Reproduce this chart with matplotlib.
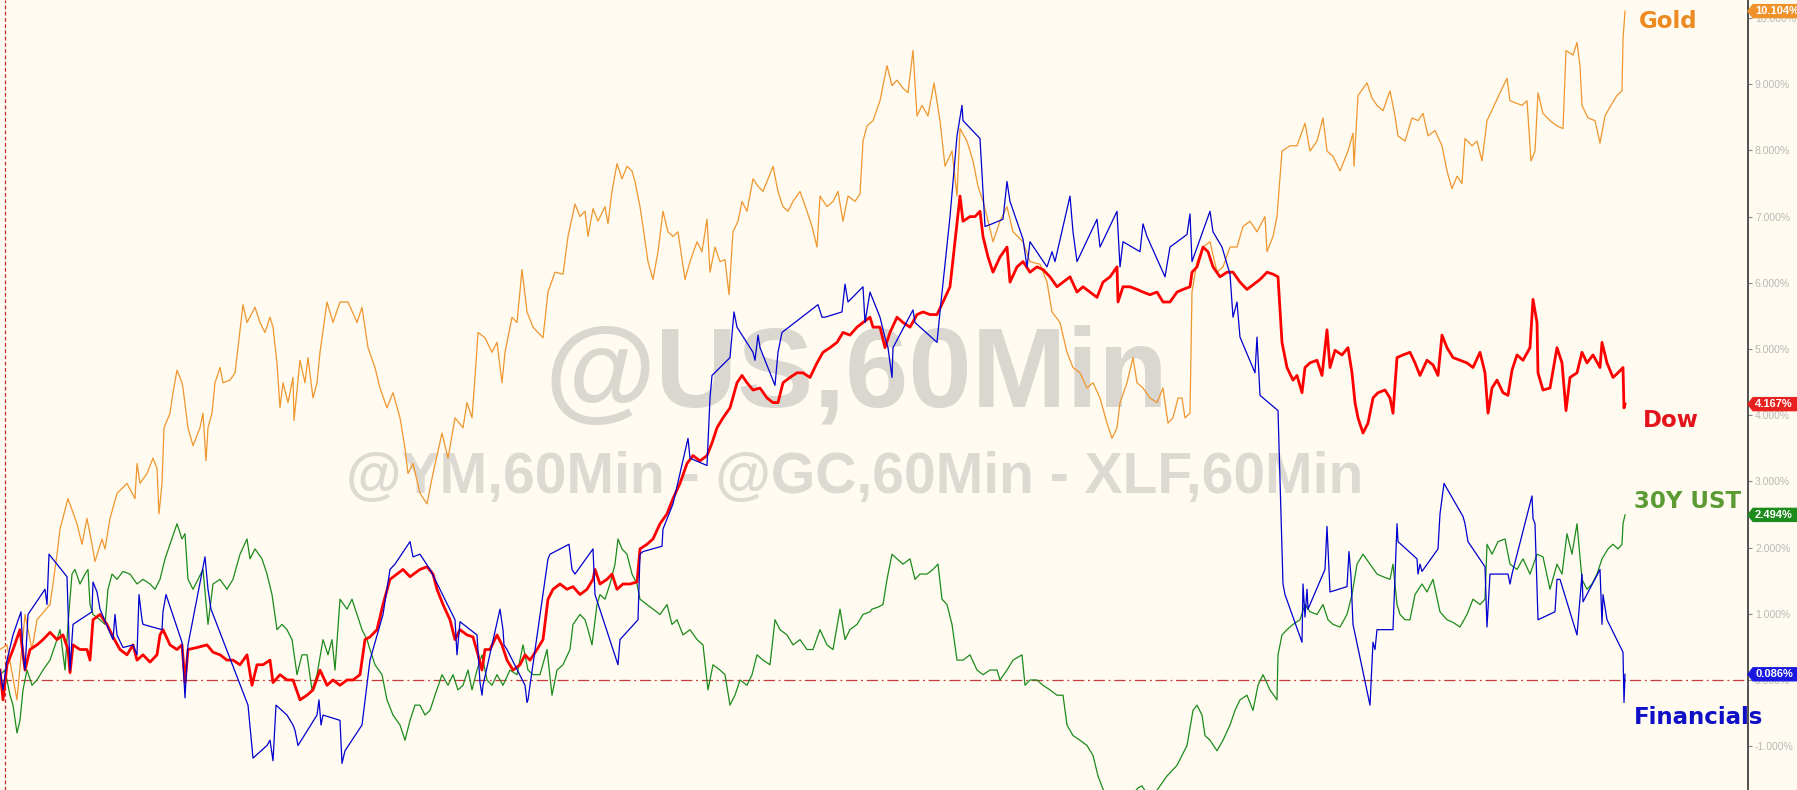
import matplotlib
matplotlib.use("Agg")
import numpy as np
import matplotlib.pyplot as plt
import matplotlib.transforms as mtransforms
from matplotlib.patches import Polygon

# %%
# hourly bar index (shared scale) and % change since start
gold_t = [0, 7, 17, 25, 32, 37, 50, 53, 57, 60, 68, 77, 82, 87, 92, 95, 102, 105, 110, 117,
          127, 135, 137, 140, 147, 153, 157, 159, 162, 164, 170, 173, 177, 182, 183, 188, 193, 200, 203, 206,
          208, 212, 215, 220, 223, 230, 235, 238, 243, 247, 255, 260, 265, 270, 273, 277, 280, 283, 288, 293,
          294, 300, 305, 308, 313, 317, 320, 327, 333, 340, 348, 357, 362, 368, 375, 380, 387, 393, 400, 405,
          408, 413, 420, 427, 433, 442, 448, 455, 463, 467, 472, 475, 478, 485, 492, 497, 502, 505, 512, 517,
          522, 527, 533, 538, 543, 548, 555, 563, 568, 575, 580, 585, 588, 593, 598, 605, 608, 612, 617, 622,
          627, 632, 635, 640, 643, 648, 653, 658, 663, 668, 673, 678, 685, 690, 697, 702, 707, 710, 715, 720,
          725, 729, 733, 738, 742, 747, 753, 758, 763, 767, 773, 778, 783, 788, 793, 800, 807, 812, 817, 820,
          827, 833, 838, 843, 848, 855, 860, 863, 867, 873, 880, 887, 892, 897, 903, 908, 913, 917, 922, 928,
          934, 940, 945, 952, 957, 960, 967, 973, 978, 983, 987, 993, 1000, 1007, 1013, 1023, 1030, 1040, 1047, 1052,
          1060, 1067, 1073, 1080, 1087, 1093, 1100, 1107, 1112, 1117, 1120, 1127, 1133, 1137, 1143, 1150, 1157, 1163, 1168, 1173,
          1178, 1182, 1185, 1190, 1192, 1197, 1203, 1210, 1217, 1223, 1230, 1237, 1243, 1250, 1257, 1265, 1267, 1273, 1277, 1282,
          1290, 1297, 1305, 1310, 1317, 1323, 1327, 1333, 1340, 1348, 1353, 1354, 1358, 1367, 1372, 1377, 1383, 1390, 1395, 1398,
          1405, 1412, 1418, 1423, 1428, 1435, 1442, 1447, 1452, 1457, 1462, 1465, 1472, 1477, 1482, 1487, 1493, 1500, 1507, 1510,
          1517, 1522, 1527, 1531, 1535, 1538, 1543, 1550, 1557, 1563, 1566, 1573, 1577, 1580, 1582, 1588, 1595, 1600, 1605, 1612,
          1617, 1622, 1623, 1625]
gold_pct = [0.46, 0.53, -0.30, 0.99, 0.46, 0.91, 1.14, 1.45, 1.90, 2.28, 2.74, 2.36, 2.05, 2.44, 2.05, 1.79, 2.13, 1.98, 2.44, 2.82,
            2.97, 2.74, 3.27, 2.97, 3.12, 3.35, 3.20, 2.51, 2.97, 3.81, 4.03, 4.34, 4.68, 4.49, 4.41, 3.81, 3.54, 3.81, 4.03, 3.31,
            3.81, 4.03, 4.49, 4.72, 4.49, 4.53, 4.64, 5.02, 5.67, 5.40, 5.63, 5.40, 5.25, 5.48, 5.33, 4.79, 4.11, 4.49, 4.19, 4.57,
            3.92, 4.83, 4.49, 4.87, 4.26, 4.49, 4.95, 5.71, 5.40, 5.71, 5.71, 5.40, 5.63, 5.02, 4.72, 4.41, 4.11, 4.34, 3.96, 3.50,
            3.12, 3.27, 2.82, 2.66, 3.12, 3.73, 3.35, 3.96, 3.81, 4.19, 3.96, 4.57, 5.25, 5.17, 4.95, 5.10, 4.49, 4.95, 5.48, 5.40,
            6.20, 5.56, 5.33, 5.25, 5.17, 5.86, 6.16, 6.13, 6.70, 7.19, 7.00, 7.08, 6.70, 7.12, 6.93, 7.15, 6.89, 7.38, 7.80, 7.57,
            7.76, 7.69, 7.53, 7.15, 6.85, 6.32, 6.05, 6.47, 7.08, 6.77, 6.70, 6.77, 6.05, 6.32, 6.62, 6.47, 6.96, 6.16, 6.54, 6.32,
            6.35, 5.82, 6.77, 6.93, 7.23, 7.08, 7.57, 7.46, 7.38, 7.53, 7.76, 7.38, 7.15, 7.08, 7.23, 7.38, 7.08, 6.85, 6.54, 7.31,
            7.15, 7.23, 7.38, 6.93, 7.31, 7.23, 7.34, 8.14, 8.37, 8.45, 8.75, 9.28, 8.98, 9.06, 8.94, 8.87, 9.51, 8.52, 8.68, 8.52,
            9.02, 8.45, 7.76, 7.99, 7.31, 8.33, 8.14, 7.84, 7.46, 7.23, 7.00, 6.62, 6.93, 7.15, 6.77, 6.62, 6.32, 6.28, 6.01, 5.56,
            5.40, 4.95, 4.72, 4.64, 4.41, 4.49, 4.26, 3.88, 3.65, 3.81, 4.19, 4.49, 4.87, 4.49, 4.41, 4.26, 4.19, 4.41, 3.88, 3.96,
            4.26, 4.26, 3.96, 4.03, 5.86, 6.32, 6.54, 6.62, 6.16, 6.24, 6.54, 6.54, 6.85, 6.93, 6.77, 7.00, 6.47, 6.70, 7.00, 7.99,
            8.07, 8.07, 8.41, 7.99, 8.14, 8.49, 7.99, 7.91, 7.69, 7.99, 8.26, 7.76, 8.83, 9.02, 8.79, 8.68, 8.60, 8.90, 8.52, 8.22,
            8.14, 8.49, 8.45, 8.56, 8.22, 8.30, 8.07, 7.69, 7.42, 7.61, 7.50, 8.18, 8.07, 8.14, 7.84, 8.45, 8.64, 8.87, 9.09, 8.75,
            8.71, 8.68, 8.75, 7.84, 7.99, 8.87, 8.56, 8.45, 8.37, 8.33, 9.51, 9.44, 9.63, 9.28, 8.68, 8.49, 8.45, 8.11, 8.52, 8.71,
            8.83, 8.90, 9.67, 10.104]

dow_t = [0, 3, 7, 13, 20, 25, 30, 37, 43, 50, 57, 63, 68, 70, 73, 80, 87, 90, 93, 100,
         107, 113, 120, 127, 133, 137, 143, 150, 157, 160, 163, 170, 177, 182, 185, 188, 197, 207, 213, 220,
         227, 233, 240, 247, 252, 257, 263, 270, 273, 280, 287, 293, 300, 307, 313, 320, 327, 333, 340, 347,
         353, 360, 365, 370, 377, 383, 390, 397, 403, 410, 420, 427, 433, 437, 443, 450, 455, 460, 467, 473,
         478, 482, 485, 490, 497, 502, 507, 513, 520, 525, 530, 537, 543, 548, 553, 560, 567, 573, 580, 587,
         593, 595, 600, 607, 612, 617, 623, 630, 637, 640, 647, 653, 660, 667, 673, 680, 687, 693, 700, 707,
         712, 717, 723, 730, 737, 742, 747, 753, 760, 767, 773, 778, 783, 790, 797, 803, 810, 817, 823, 830,
         837, 843, 850, 857, 863, 870, 873, 880, 885, 890, 897, 903, 910, 917, 923, 930, 937, 943, 950, 955,
         960, 963, 970, 975, 980, 983, 988, 993, 1000, 1007, 1010, 1017, 1023, 1030, 1037, 1043, 1050, 1057, 1063, 1070,
         1077, 1083, 1090, 1097, 1103, 1110, 1117, 1118, 1123, 1130, 1137, 1143, 1150, 1157, 1163, 1170, 1177, 1183, 1190, 1192,
         1197, 1203, 1208, 1213, 1220, 1227, 1233, 1240, 1247, 1253, 1260, 1267, 1273, 1278, 1282, 1287, 1293, 1297, 1302, 1305,
         1310, 1317, 1322, 1327, 1330, 1335, 1342, 1348, 1352, 1355, 1358, 1363, 1368, 1373, 1378, 1385, 1390, 1393, 1397, 1403,
         1410, 1415, 1420, 1427, 1433, 1438, 1442, 1447, 1453, 1460, 1467, 1473, 1480, 1485, 1488, 1492, 1497, 1503, 1508, 1512,
         1517, 1523, 1530, 1533, 1537, 1538, 1543, 1550, 1557, 1562, 1566, 1570, 1577, 1582, 1587, 1593, 1600, 1602, 1607, 1613,
         1618, 1623, 1624, 1625]
dow_pct = [0.15, -0.30, 0.23, 0.46, 0.76, 0.15, 0.46, 0.53, 0.61, 0.72, 0.61, 0.68, 0.46, 0.11, 0.53, 0.46, 0.46, 0.30, 0.91, 0.99,
           0.84, 0.65, 0.46, 0.38, 0.53, 0.30, 0.38, 0.27, 0.38, 0.68, 0.76, 0.53, 0.46, 0.53, -0.04, 0.46, 0.49, 0.53, 0.42, 0.38,
           0.30, 0.30, 0.23, 0.38, -0.08, 0.23, 0.23, 0.30, -0.04, 0.08, 0.00, 0.00, -0.30, -0.23, -0.15, 0.15, -0.08, 0.00, -0.08, 0.00,
           0.00, 0.08, 0.61, 0.65, 0.76, 1.14, 1.52, 1.60, 1.67, 1.56, 1.67, 1.71, 1.60, 1.37, 1.14, 0.91, 0.61, 0.76, 0.68, 0.65,
           0.38, 0.15, 0.46, 0.46, 0.68, 0.53, 0.30, 0.15, 0.23, 0.38, 0.30, 0.46, 0.61, 1.22, 1.37, 1.45, 1.37, 1.41, 1.29, 1.37,
           1.52, 1.67, 1.45, 1.52, 1.60, 1.37, 1.45, 1.45, 1.48, 1.98, 2.05, 2.13, 2.36, 2.51, 2.74, 2.97, 3.27, 3.39, 3.31, 3.39,
           3.58, 3.81, 3.96, 4.11, 4.49, 4.60, 4.49, 4.38, 4.41, 4.26, 4.19, 4.19, 4.49, 4.57, 4.64, 4.64, 4.57, 4.79, 4.95, 5.02,
           5.10, 5.25, 5.21, 5.33, 5.40, 5.48, 5.33, 5.33, 5.02, 5.25, 5.48, 5.40, 5.33, 5.52, 5.56, 5.52, 5.52, 5.71, 5.94, 6.62,
           7.31, 6.93, 7.00, 7.00, 7.08, 6.70, 6.39, 6.16, 6.39, 6.54, 6.01, 6.24, 6.32, 6.16, 6.24, 6.20, 6.09, 5.94, 6.01, 6.09,
           5.86, 5.94, 5.86, 5.78, 6.01, 6.09, 6.24, 5.71, 5.94, 5.94, 5.90, 5.86, 5.82, 5.86, 5.71, 5.71, 5.86, 5.90, 5.94, 6.16,
           6.24, 6.54, 6.47, 6.24, 6.09, 6.16, 6.16, 6.01, 5.90, 5.97, 6.05, 6.16, 6.13, 6.09, 5.10, 4.72, 4.53, 4.60, 4.34, 4.72,
           4.79, 4.83, 4.60, 5.29, 4.72, 4.98, 4.91, 5.02, 4.64, 4.19, 3.96, 3.73, 3.88, 4.26, 4.34, 4.38, 4.26, 4.03, 4.87, 4.91,
           4.95, 4.79, 4.60, 4.83, 4.76, 4.60, 5.21, 5.02, 4.87, 4.83, 4.79, 4.72, 4.95, 4.64, 4.03, 4.41, 4.53, 4.34, 4.30, 4.68,
           4.91, 4.83, 5.02, 5.75, 5.40, 4.64, 4.38, 4.41, 5.02, 4.79, 4.07, 4.57, 4.64, 4.95, 4.79, 4.91, 4.72, 5.10, 4.79, 4.57,
           4.64, 4.72, 4.11, 4.167]

ust_t = [0, 5, 10, 13, 17, 20, 23, 27, 32, 37, 43, 50, 57, 60, 65, 68, 72, 75, 80, 85,
         88, 90, 93, 100, 105, 108, 112, 117, 123, 130, 137, 143, 150, 155, 160, 165, 170, 177, 182, 185,
         188, 193, 198, 203, 208, 213, 220, 227, 233, 240, 247, 250, 255, 262, 267, 272, 277, 282, 287, 292,
         297, 302, 307, 312, 317, 323, 328, 332, 335, 340, 347, 352, 357, 362, 367, 370, 375, 382, 387, 393,
         400, 405, 410, 415, 420, 425, 430, 435, 442, 448, 453, 458, 463, 468, 472, 477, 482, 487, 492, 497,
         503, 510, 517, 523, 528, 533, 540, 547, 552, 557, 563, 570, 573, 580, 585, 588, 592, 597, 600, 605,
         610, 615, 618, 622, 627, 632, 637, 640, 647, 653, 660, 667, 672, 677, 683, 690, 697, 703, 708, 713,
         720, 725, 730, 735, 740, 747, 752, 757, 763, 770, 775, 780, 787, 793, 800, 807, 813, 820, 827, 833,
         840, 845, 850, 857, 863, 870, 872, 878, 883, 887, 892, 897, 903, 910, 915, 920, 927, 933, 938, 942,
         947, 952, 957, 963, 970, 977, 983, 990, 997, 1000, 1007, 1013, 1022, 1025, 1030, 1037, 1043, 1050, 1057, 1063,
         1067, 1073, 1080, 1087, 1093, 1098, 1103, 1108, 1113, 1120, 1127, 1133, 1138, 1142, 1147, 1153, 1160, 1167, 1172, 1177,
         1182, 1187, 1193, 1197, 1202, 1205, 1210, 1217, 1223, 1230, 1235, 1240, 1247, 1253, 1258, 1263, 1270, 1277, 1278, 1282,
         1287, 1293, 1300, 1305, 1310, 1317, 1323, 1328, 1333, 1340, 1347, 1352, 1357, 1363, 1370, 1377, 1383, 1390, 1393, 1397,
         1400, 1405, 1410, 1415, 1422, 1427, 1433, 1440, 1447, 1453, 1460, 1467, 1473, 1480, 1485, 1487, 1492, 1498, 1505, 1510,
         1517, 1523, 1530, 1537, 1543, 1550, 1557, 1562, 1567, 1572, 1577, 1582, 1587, 1592, 1597, 1602, 1608, 1613, 1618, 1622,
         1623, 1625]
ust_pct = [0.08, 0.15, -0.23, -0.38, -0.80, -0.61, -0.15, 0.15, -0.08, 0.00, 0.15, 0.30, 0.61, 0.76, 0.15, 0.84, 1.60, 1.67, 1.45, 1.60,
           1.67, 1.14, 0.99, 0.91, 0.84, 1.37, 1.60, 1.52, 1.64, 1.60, 1.45, 1.52, 1.45, 1.37, 1.52, 1.83, 2.05, 2.36, 2.13, 2.21,
           1.52, 1.37, 1.52, 1.67, 0.84, 1.45, 1.52, 1.37, 1.52, 1.90, 2.13, 1.83, 1.98, 1.83, 1.60, 1.29, 0.76, 0.84, 0.76, 0.61,
           0.08, 0.38, 0.38, -0.15, 0.08, 0.61, 0.38, 0.61, 0.15, 1.22, 1.07, 1.22, 0.99, 0.76, 0.61, 0.46, 0.23, 0.08, -0.30, -0.53,
           -0.68, -0.91, -0.61, -0.38, -0.38, -0.53, -0.46, -0.23, 0.08, -0.08, 0.08, -0.15, -0.08, 0.15, -0.15, 0.15, 0.38, 0.00, -0.08, 0.08,
           -0.08, 0.15, 0.08, 0.53, 0.15, 0.08, 0.08, 0.46, -0.23, 0.15, 0.23, 0.46, 0.84, 0.99, 0.91, 0.76, 0.53, 1.14, 1.29, 1.22,
           1.45, 1.75, 2.13, 1.98, 1.90, 1.60, 1.45, 1.22, 1.14, 1.07, 0.99, 1.14, 0.84, 0.91, 0.68, 0.76, 0.61, 0.53, -0.15, 0.23,
           0.15, 0.08, -0.38, -0.23, 0.00, -0.08, 0.08, 0.38, 0.30, 0.23, 0.91, 0.76, 0.68, 0.53, 0.61, 0.46, 0.46, 0.76, 0.53, 0.46,
           1.07, 0.61, 0.76, 0.84, 0.99, 1.03, 1.07, 1.10, 1.14, 1.52, 1.90, 1.83, 1.75, 1.83, 1.52, 1.60, 1.60, 1.67, 1.75, 1.22,
           1.14, 0.84, 0.30, 0.30, 0.38, 0.15, 0.08, 0.15, 0.15, 0.00, 0.15, 0.30, 0.38, -0.08, 0.00, 0.00, -0.08, -0.15, -0.23, -0.23,
           -0.68, -0.84, -0.91, -0.99, -1.14, -1.45, -1.65, -1.75, -1.70, -1.75, -1.68, -1.72, -1.63, -1.60, -1.72, -1.75, -1.60, -1.45, -1.37, -1.29,
           -1.14, -0.99, -0.46, -0.38, -0.53, -0.84, -0.91, -1.07, -0.91, -0.68, -0.46, -0.30, -0.23, -0.46, -0.08, 0.08, -0.15, -0.30, 0.38, 0.68,
           0.76, 0.84, 0.91, 1.14, 1.03, 0.99, 1.14, 0.91, 0.84, 0.80, 0.99, 1.29, 1.75, 1.90, 1.75, 1.60, 1.56, 1.52, 1.75, 1.14,
           0.99, 0.91, 0.91, 1.29, 1.45, 1.33, 1.52, 1.03, 0.91, 0.87, 0.80, 0.99, 1.22, 1.14, 1.22, 2.05, 1.90, 2.09, 2.13, 1.75,
           1.67, 1.83, 1.60, 1.90, 1.86, 1.37, 1.75, 1.60, 2.21, 1.90, 2.36, 1.52, 1.37, 1.45, 1.60, 1.83, 1.98, 2.05, 1.98, 2.05,
           2.36, 2.494]

fin_t = [0, 3, 7, 13, 21, 23, 25, 28, 45, 47, 49, 67, 70, 73, 92, 93, 97, 100, 113, 115,
         117, 123, 133, 137, 139, 142, 143, 162, 163, 166, 182, 185, 188, 205, 208, 211, 248, 253, 267, 270,
         273, 276, 287, 293, 295, 298, 317, 319, 321, 323, 340, 342, 345, 362, 370, 383, 390, 395, 410, 413,
         420, 430, 435, 455, 457, 460, 477, 480, 482, 483, 500, 503, 504, 507, 525, 527, 528, 530, 548, 550,
         569, 572, 575, 593, 595, 618, 620, 638, 640, 643, 662, 663, 673, 688, 690, 707, 710, 712, 730, 734,
         737, 753, 755, 758, 760, 775, 778, 782, 818, 822, 825, 842, 845, 848, 863, 865, 870, 880, 885, 888,
         892, 893, 913, 915, 937, 940, 950, 957, 962, 963, 980, 985, 992, 1003, 1007, 1010, 1023, 1027, 1030, 1047,
         1052, 1055, 1070, 1073, 1077, 1097, 1100, 1117, 1120, 1123, 1140, 1143, 1147, 1165, 1170, 1187, 1190, 1192, 1210, 1213,
         1222, 1230, 1233, 1237, 1240, 1255, 1257, 1260, 1278, 1283, 1285, 1302, 1303, 1305, 1307, 1308, 1325, 1327, 1330, 1347,
         1349, 1351, 1353, 1370, 1373, 1375, 1377, 1393, 1397, 1398, 1417, 1418, 1420, 1422, 1438, 1440, 1444, 1463, 1465, 1468,
         1485, 1487, 1490, 1508, 1510, 1512, 1532, 1533, 1535, 1538, 1555, 1557, 1560, 1577, 1582, 1583, 1600, 1602, 1603, 1607,
         1623, 1624, 1625]
fin_pct = [0.15, -0.15, 0.30, 0.68, 1.03, 0.38, 0.15, 0.99, 1.37, 1.14, 1.90, 1.56, 0.15, 0.84, 1.03, 1.48, 1.33, 1.07, 0.61, 0.99,
           0.68, 0.49, 0.53, 0.38, 1.29, 0.91, 0.84, 0.76, 1.03, 1.29, 0.57, -0.27, 0.53, 1.86, 1.37, 1.07, -0.38, -1.18, -0.99, -0.91,
           -1.22, -0.38, -0.53, -0.68, -0.76, -0.99, -0.53, -0.30, -0.68, -0.53, -0.61, -1.26, -1.07, -0.68, 0.30, 0.99, 1.67, 1.75, 2.09, 1.86,
           1.90, 1.67, 1.52, 0.91, 0.38, 0.88, 0.68, -0.04, -0.23, -0.08, 1.07, 0.76, 0.53, 0.46, -0.08, -0.34, -0.30, -0.08, 1.83, 1.90,
           2.05, 1.67, 1.60, 1.98, 1.29, 0.23, 0.61, 0.91, 1.90, 1.94, 2.02, 2.28, 2.66, 3.65, 3.35, 3.24, 4.26, 4.60, 4.87, 5.56,
           5.33, 4.95, 4.83, 5.21, 5.02, 4.45, 4.95, 5.25, 5.67, 5.48, 5.48, 5.56, 5.98, 5.71, 5.94, 5.40, 5.86, 5.48, 5.17, 5.02,
           4.57, 5.02, 5.59, 5.40, 5.10, 5.56, 7.00, 8.22, 8.68, 8.45, 8.18, 6.85, 6.89, 6.96, 7.53, 7.23, 6.66, 6.24, 6.62, 6.24,
           6.47, 6.32, 7.31, 6.77, 6.32, 6.96, 6.54, 7.08, 6.24, 6.62, 6.47, 6.89, 6.70, 6.09, 6.54, 6.73, 7.04, 6.32, 7.08, 6.77,
           6.54, 6.13, 5.48, 5.71, 5.18, 4.64, 5.18, 4.30, 4.07, 1.45, 1.29, 0.57, 1.45, 0.95, 1.37, 1.07, 1.67, 2.32, 1.33, 1.41,
           1.94, 1.56, 0.84, -0.38, 0.57, 0.46, 0.76, 0.76, 2.36, 2.09, 1.83, 1.60, 1.75, 1.64, 1.98, 2.51, 2.97, 2.47, 2.36, 2.09,
           1.71, 0.80, 1.60, 1.60, 1.45, 1.60, 2.78, 2.44, 2.36, 0.91, 1.03, 1.52, 1.52, 0.68, 1.60, 1.18, 1.67, 0.84, 1.29, 0.91,
           0.42, -0.34, 0.086]

yticks = [-1, 0, 1, 2, 3, 4, 5, 6, 7, 8, 9, 10]
series_names = ["Gold", "Dow", "30Y UST", "Financials"]
line_colors = ["#f0962e", "#ff0000", "#1c8a1c", "#0000d0"]
label_colors = ["#ee8a22", "#e3141c", "#5c9a34", "#0f0fc8"]
tag_colors = ["#f0922a", "#e82020", "#1c8c1c", "#1818e0"]
last_vals = [gold_pct[-1], dow_pct[-1], ust_pct[-1], fin_pct[-1]]

# %%
W, H = 1797, 790
bg = "#fffbf0"
fig = plt.figure(figsize=(W / 100, H / 100), dpi=100, facecolor=bg)
ax = fig.add_axes([0, 0, 1748 / W, 1])
ax.set_facecolor(bg)
ax.set_xlim(0, 1748)
ax.set_ylim(-1.662, 10.272)

# watermarks
ax.text(0.49, 0.485, "@US,60Min", transform=ax.transAxes, ha="center", va="baseline",
        fontsize=82, fontweight="bold", family="Liberation Sans", color="#d9d7d0", zorder=0)
ax.text(0.489, 0.376, "@YM,60Min - @GC,60Min - XLF,60Min", transform=ax.transAxes,
        ha="center", va="baseline", fontsize=41, fontweight="bold", family="Liberation Sans",
        color="#dcdad3", zorder=0)

ax.axhline(0, color="#c43c3c", lw=0.9, ls=(0, (9, 3, 1.5, 3)), zorder=1)
ax.axvline(5, color="#cc2a2a", lw=0.9, ls=(0, (3, 2)), zorder=1)

ax.plot(gold_t, gold_pct, color=line_colors[0], lw=0.9, zorder=2)
ax.plot(ust_t, ust_pct, color=line_colors[2], lw=0.9, zorder=3)
ax.plot(dow_t, dow_pct, color=line_colors[1], lw=2.0, zorder=4)
ax.plot(fin_t, fin_pct, color=line_colors[3], lw=0.9, zorder=5)

# right-hand axis
for s in ["left", "top", "bottom"]:
    ax.spines[s].set_visible(False)
ax.spines["right"].set_color("#333333")
ax.spines["right"].set_linewidth(1.2)
ax.set_xticks([])
ax.yaxis.tick_right()
ax.set_yticks(yticks)
ax.set_yticklabels([f"{v:.3f}%" for v in yticks], family="Liberation Sans", fontsize=7.5, color="#b8b8b8")
ax.tick_params(axis="y", direction="out", length=3, width=0.8, color="#888888", pad=2)

# last-value tags (arrow-shaped) on the axis
trans = mtransforms.blended_transform_factory(fig.transFigure, ax.transData)
half = 6.5 / 66.2
x0, x1, x2 = 1748 / W, 1753 / W, 1.0
for v, c in zip(last_vals, tag_colors):
    tag = Polygon([(x0, v), (x1, v + half), (x2, v + half), (x2, v - half), (x1, v - half)],
                  closed=True, transform=trans, fc=c, ec=c, clip_on=False, zorder=9)
    fig.add_artist(tag)
    fig.text(1755 / W, v, f"{v:.3f}%", transform=trans, ha="left", va="center",
             fontsize=8, fontweight="bold", family="Liberation Sans", color="white", zorder=10)

# series labels
label_pos = [(1668, 21), (1671, 421), (1688, 502), (1699, 717)]
for name, c, (px, py) in zip(series_names, label_colors, label_pos):
    fig.text(px / W, 1 - py / H, name, ha="center", va="center", fontsize=16.5,
             fontweight="bold", family="DejaVu Sans", color=c, zorder=11)

fig.savefig("out.png", dpi=100, facecolor=bg)
